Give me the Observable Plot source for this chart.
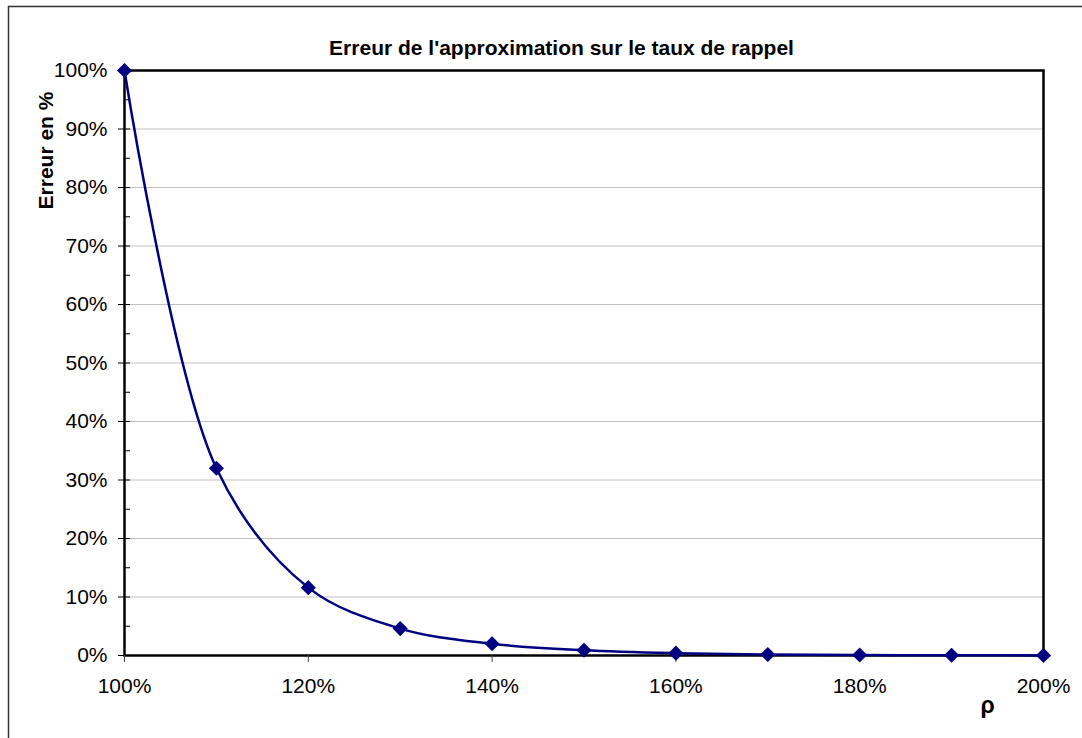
<!DOCTYPE html>
<html><head><meta charset="utf-8">
<script src="https://cdn.jsdelivr.net/npm/d3@7"></script>
<script src="https://cdn.jsdelivr.net/npm/@observablehq/plot@0.6"></script>
<style>
html,body{margin:0;padding:0;background:#fff;}
#chart{width:1082px;height:738px;overflow:hidden;}
</style></head><body><div id="chart"></div>
<script>
const rho = [100, 110, 120, 130, 140, 150, 160, 170, 180, 190, 200];
const erreur = [100, 32, 11.6, 4.6, 2.0, 0.9, 0.4, 0.18, 0.08, 0.04, 0.02];
const yTicks = [0, 10, 20, 30, 40, 50, 60, 70, 80, 90, 100];
const yMinor = [5, 15, 25, 35, 45, 55, 65, 75, 85, 95];
const yGrid = [10, 20, 30, 40, 50, 60, 70, 80, 90];
const xTicks = [100, 120, 140, 160, 180, 200];
const title = "Erreur de l'approximation sur le taux de rappel";
const yLabel = "Erreur en %";
const xLabel = "ρ";

const data = rho.map((r, i) => ({rho: r, erreur: erreur[i]}));
const pct = d => d + "%";
const navy = "#000080";

const chart = Plot.plot({
  width: 1082,
  height: 738,
  marginLeft: 124,
  marginRight: 39,
  marginTop: 70,
  marginBottom: 83,
  style: {fontFamily: "'Liberation Sans', Arial, sans-serif", fontSize: "21px", color: "black", background: "white", overflow: "hidden"},
  x: {domain: [100, 200]},
  y: {domain: [0, 100]},
  marks: [
    Plot.ruleY(yGrid, {stroke: "#c0c0c0", strokeWidth: 1}),
    Plot.frame({stroke: "black", strokeWidth: 2.5}),
    Plot.axisY({ticks: yTicks, tickFormat: pct, tickSize: 6, tickPadding: 11, label: null, fontSize: 21, stroke: "black", strokeWidth: 1}),
    Plot.tickY(yTicks.concat(yMinor), {insetRight: 913, stroke: "black", strokeWidth: 1}),
    Plot.axisX({ticks: xTicks, tickFormat: pct, tickSize: 7, tickPadding: 16, label: null, fontSize: 21, stroke: "#444", strokeWidth: 1}),
    Plot.line(data, {x: "rho", y: "erreur", curve: "catmull-rom", stroke: navy, strokeWidth: 2.5}),
    Plot.dot(data, {x: "rho", y: "erreur", symbol: "diamond2", r: 6.8, fill: navy, stroke: "none"}),
    Plot.text([title], {frameAnchor: "top-left", dx: 437, dy: -30, text: d => d, fontWeight: "bold", fontSize: 21, textAnchor: "middle", fill: "black"}),
    Plot.text([yLabel], {frameAnchor: "top-left", dx: -86, dy: 80, text: d => d, rotate: -90, fontWeight: "bold", fontSize: 21, textAnchor: "middle", fill: "black"}),
    Plot.text([xLabel], {frameAnchor: "bottom-right", dx: -56, dy: 57, text: d => d, fontWeight: "bold", fontSize: 23, textAnchor: "middle", fill: "black"})
  ]
});
d3.select(chart).append("path")
  .attr("d", "M8.5,738V6.5H1082")
  .attr("fill", "none")
  .attr("stroke", "#333")
  .attr("stroke-width", 1.5);
document.getElementById("chart").appendChild(chart);
</script>
</body></html>
